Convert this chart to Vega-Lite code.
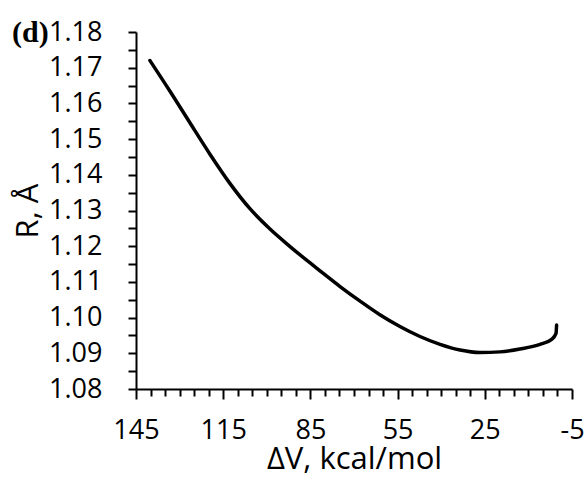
{
  "$schema": "https://vega.github.io/schema/vega-lite/v6.json",
  "width": 436,
  "height": 357,
  "autosize": {"type": "none"},
  "padding": {"left": 136, "top": 32, "right": 16, "bottom": 94},
  "background": "white",
  "title": {"text": "(d)", "anchor": "start", "frame": "group", "font": "Liberation Serif", "fontWeight": "bold", "fontSize": 30, "color": "black", "baseline": "alphabetic", "offset": 0, "dx": -124, "dy": 54},
  "data": {"values": [
    {"i": 0, "dV": 140.2, "R": 1.1720},
    {"i": 1, "dV": 133.3, "R": 1.1634},
    {"i": 2, "dV": 126.4, "R": 1.1545},
    {"i": 3, "dV": 119.5, "R": 1.1457},
    {"i": 4, "dV": 112.7, "R": 1.1376},
    {"i": 5, "dV": 105.8, "R": 1.1305},
    {"i": 6, "dV": 98.9, "R": 1.1248},
    {"i": 7, "dV": 92.0, "R": 1.1199},
    {"i": 8, "dV": 85.1, "R": 1.1153},
    {"i": 9, "dV": 81.7, "R": 1.1131},
    {"i": 10, "dV": 74.8, "R": 1.1087},
    {"i": 11, "dV": 67.9, "R": 1.1046},
    {"i": 12, "dV": 61.1, "R": 1.1008},
    {"i": 13, "dV": 54.2, "R": 1.0975},
    {"i": 14, "dV": 47.3, "R": 1.0947},
    {"i": 15, "dV": 40.4, "R": 1.0925},
    {"i": 16, "dV": 33.5, "R": 1.0909},
    {"i": 17, "dV": 26.7, "R": 1.0902},
    {"i": 18, "dV": 19.8, "R": 1.0904},
    {"i": 19, "dV": 12.9, "R": 1.0912},
    {"i": 20, "dV": 6.0, "R": 1.0925},
    {"i": 21, "dV": 2.0, "R": 1.0939},
    {"i": 22, "dV": 0.5, "R": 1.0956},
    {"i": 23, "dV": 0.3, "R": 1.0979}
  ]},
  "config": {
    "view": {"stroke": null},
    "title": {"fontSize": 30, "font": "Liberation Serif", "fontWeight": "bold"},
    "axis": {"grid": false, "domainColor": "black", "tickColor": "black", "labelColor": "black", "titleColor": "black", "labelFont": "Open Sans", "titleFont": "Open Sans", "domainWidth": 2, "tickWidth": 2, "titleFontWeight": "normal"}
  },
  "layer": [
    {
      "mark": {"type": "line", "color": "black", "strokeWidth": 3.5, "strokeCap": "round", "interpolate": "monotone"},
      "encoding": {
        "x": {"field": "dV", "type": "quantitative",
          "scale": {"domain": [-5, 145], "reverse": true, "nice": false, "zero": false},
          "axis": {"orient": "bottom", "values": [145, 115, 85, 55, 25, -5], "labelExpr": "'' + datum.value", "tickSize": 10, "labelFontSize": 27, "labelPadding": 18, "labelFlush": false, "labelOverlap": false, "title": "ΔV, kcal/mol", "titleFontSize": 31, "titlePadding": 1}},
        "y": {"field": "R", "type": "quantitative",
          "scale": {"domain": [1.08, 1.18], "nice": false, "zero": false},
          "axis": {"orient": "left", "values": [1.08, 1.09, 1.1, 1.11, 1.12, 1.13, 1.14, 1.15, 1.16, 1.17, 1.18], "format": ".2f", "tickSize": 8, "labelFontSize": 27, "labelPadding": 26, "labelFlush": false, "labelOverlap": false, "title": "R, Å", "titleFontSize": 31, "titlePadding": 4}},
        "order": {"field": "i", "type": "quantitative"}
      }
    },
    {
      "mark": {"type": "line", "opacity": 0},
      "encoding": {
        "x": {"field": "dV", "type": "quantitative",
          "axis": {"orient": "bottom", "values": [140, 135, 130, 125, 120, 110, 105, 100, 95, 90, 80, 75, 70, 65, 60, 50, 45, 40, 35, 30, 20, 15, 10, 5, 0], "tickSize": 7, "labels": false, "domain": false, "title": null}},
        "y": {"field": "R", "type": "quantitative",
          "axis": {"orient": "left", "values": [1.085, 1.095, 1.105, 1.115, 1.125, 1.135, 1.145, 1.155, 1.165, 1.175], "tickSize": 8, "labels": false, "domain": false, "title": null}},
        "order": {"field": "i", "type": "quantitative"}
      }
    }
  ],
  "resolve": {"axis": {"x": "independent", "y": "independent"}}
}
